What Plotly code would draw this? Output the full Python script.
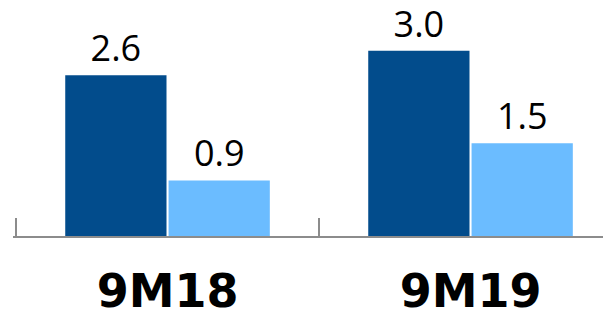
import plotly.graph_objects as go

categories = ["9M18", "9M19"]
series_dark = [2.6, 3.0]
series_light = [0.9, 1.5]

DARK = "#024C8C"
LIGHT = "#6BBCFF"
AXIS = "#8C8C8C"
FONT = "Open Sans"

fig = go.Figure()
for vals, col in [(series_dark, DARK), (series_light, LIGHT)]:
    fig.add_trace(go.Bar(
        x=categories, y=vals,
        marker=dict(color=col, line=dict(width=0)),
        text=vals, texttemplate="%{y:.1f}", textposition="outside",
        textfont=dict(family=FONT, size=36, color="#000000"),
        cliponaxis=False, hoverinfo="skip",
    ))

# page body has an 8px default margin; figure sized to fill the rest
fig.update_layout(
    width=603, height=307,
    margin=dict(l=5, r=0, t=0, b=79, autoexpand=False),
    paper_bgcolor="white", plot_bgcolor="white",
    barmode="group", bargap=0.318, bargroupgap=0.02,
    showlegend=False,
    xaxis=dict(
        range=[-0.51, 1.4636], automargin=False,
        showline=True, linecolor=AXIS, linewidth=2,
        ticks="inside", ticklen=18, tickwidth=2, tickcolor=AXIS,
        tickson="boundaries",
        tickfont=dict(family="DejaVu Sans", size=46, color="#000000", weight="bold"),
        ticklabelstandoff=14,
        showgrid=False, zeroline=False,
    ),
    yaxis=dict(range=[0, 3.69], visible=False, showgrid=False, zeroline=False,
               automargin=False),
)

fig.write_html("out.html")
